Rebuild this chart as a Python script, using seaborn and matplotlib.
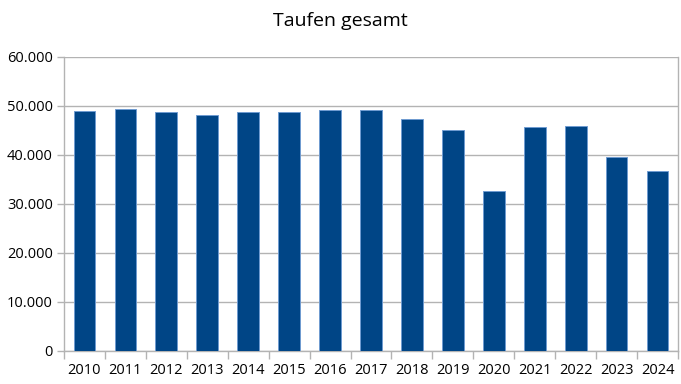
import matplotlib
matplotlib.use("Agg")
import matplotlib.pyplot as plt
import seaborn as sns
import pandas as pd
import numpy as np
from matplotlib.ticker import FuncFormatter, FixedLocator

years = ["2010", "2011", "2012", "2013", "2014", "2015", "2016", "2017",
         "2018", "2019", "2020", "2021", "2022", "2023", "2024"]
taufen = [48830, 49300, 48690, 48150, 48620, 48620, 49030, 49030,
          47330, 45000, 32460, 45540, 45750, 39530, 36650]
title = "Taufen gesamt"

sns.set_theme(style="white")
plt.rcParams['font.family'] = ['Open Sans', 'DejaVu Sans']

df = pd.DataFrame({"Jahr": years, "Taufen": taufen})

fig = plt.figure(figsize=(6.81, 3.84), dpi=100)
ax = fig.add_axes([64/681, 1-350.5/384, (678-64)/681, (350.5-56.5)/384])

sns.barplot(data=df, x="Jahr", y="Taufen", ax=ax, color="#004586",
            width=0.53, saturation=1, edgecolor="#6f9bd1", linewidth=0.7,
            zorder=3)

ax.set_ylim(0, 60000)
ax.set_xlim(-0.5, len(years) - 0.5)
ax.set_yticks(np.arange(0, 60001, 10000))
ax.yaxis.set_major_formatter(FuncFormatter(lambda v, p: f"{int(v):,}".replace(",", ".")))
ax.yaxis.grid(True, color="#b3b3b3", linewidth=1.0, zorder=0)
ax.set_axisbelow(True)

ax.set_xlabel("")
ax.set_ylabel("")
fig.text(0.5, 1 - 21/384, title, fontsize=14, color="#000000",
         ha="center", va="center")

for s in ["left", "bottom", "right"]:
    ax.spines[s].set_visible(True)
    ax.spines[s].set_color("#b3b3b3")
    ax.spines[s].set_linewidth(1.0)
ax.spines["top"].set_visible(False)

ax.tick_params(axis="y", which="major", left=True, length=5, width=1,
               color="#b3b3b3", labelsize=10.5, labelcolor="#000000", pad=3)
ax.tick_params(axis="x", which="major", bottom=False, length=0,
               labelsize=10.5, labelcolor="#000000", pad=9)
ax.xaxis.set_minor_locator(FixedLocator(np.arange(-0.5, len(years), 1.0)))
ax.tick_params(axis="x", which="minor", bottom=True, length=6, width=1,
               color="#b3b3b3")

fig.savefig("out.png", dpi=100)
